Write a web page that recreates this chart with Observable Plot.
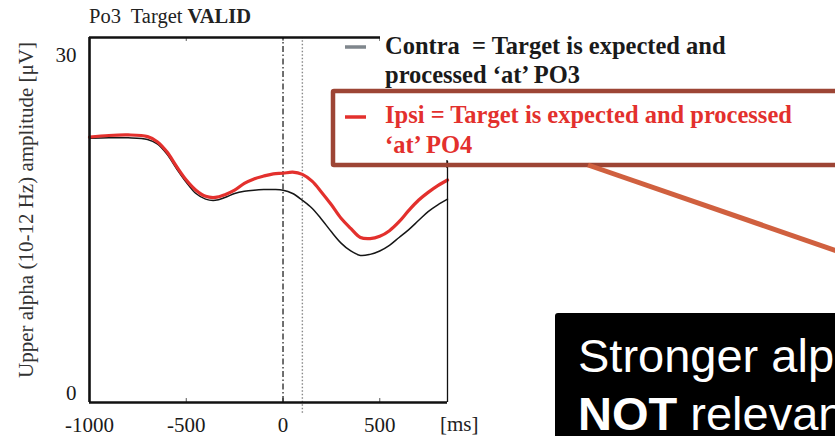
<!DOCTYPE html>
<html><head><meta charset="utf-8">
<script src="https://cdn.jsdelivr.net/npm/d3@7"></script>
<script src="https://cdn.jsdelivr.net/npm/@observablehq/plot@0.6"></script>
<style>
body{margin:0;background:#fff;}
#chart{position:relative;width:835px;height:436px;overflow:hidden;background:#fff;}
</style>
</head><body><div id="chart"></div>
<script>
// Time axis (ms)
const timeMs = [-1000,-900,-800,-700,-650,-600,-550,-500,-450,-400,-350,-300,-250,-200,-150,-100,-50,0,50,100,150,200,250,300,350,400,450,500,550,600,650,700,750,800,850];
// Contra (black) amplitude [µV]
const contra = [22.6,22.65,22.65,22.5,22.1,21.2,19.9,18.7,17.7,17.2,17.1,17.35,17.7,17.9,18.0,18.05,18.05,18.0,17.7,17.1,16.4,15.4,14.3,13.3,12.6,12.2,12.3,12.6,13.1,13.8,14.5,15.3,16.1,16.7,17.2];
// Ipsi (red) amplitude [µV]
const ipsi = [22.7,22.85,22.9,22.75,22.3,21.4,20.1,18.9,18.0,17.45,17.35,17.6,18.0,18.6,19.0,19.25,19.45,19.5,19.6,19.4,18.8,17.8,16.7,15.5,14.6,13.8,13.7,13.9,14.4,15.2,16.2,17.1,17.8,18.4,18.9];
const xTicks = [-1000,-500,0,500];
const yTicks = [0,30];
const xDomain = [-1000, 850];
const yDomain = [-0.85, 31.55];
const onsetMs = [0];
const dottedMs = [100];

const rows = timeMs.flatMap((t,i)=>[{t, v: contra[i], s:"Contra"},{t, v: ipsi[i], s:"Ipsi"}]);

const serif = "'Liberation Serif','Times New Roman',serif";

const plot = Plot.plot({
  width: 835, height: 436,
  marginLeft: 89, marginRight: 388, marginTop: 37, marginBottom: 34,
  style: {fontFamily: serif, fontSize: "21px", background: "#fff", color: "#1a1a1a"},
  x: {domain: xDomain},
  y: {domain: yDomain},
  marks: [
    Plot.axisX({ticks: xTicks, tickSize: 0, tickPadding: 15, label: null, tickFormat: d => String(d)}),
    Plot.axisY({ticks: yTicks, tickSize: 0, tickPadding: 13, label: null, tickFormat: d => String(d)}),
    // inner tick marks
    Plot.ruleX(xTicks.slice(1), {y1: yDomain[0], y2: yDomain[0] + 0.35, stroke: "#555", strokeWidth: 1}),
    Plot.ruleX(xTicks.slice(1), {y1: yDomain[1], y2: yDomain[1] - 0.35, stroke: "#555", strokeWidth: 1}),
    // stimulus markers
    Plot.ruleX(onsetMs, {y1: yDomain[0], y2: yDomain[1], stroke: "#111", strokeWidth: 1.2, strokeDasharray: "6,2.5,1.5,2.5"}),
    Plot.ruleX(dottedMs, {y1: -1.8, y2: yDomain[1], stroke: "#888", strokeWidth: 1.4, strokeDasharray: "1.5,2"}),
    // curves
    Plot.line(rows.filter(d=>d.s==="Contra"), {x: "t", y: "v", stroke: "#161616", strokeWidth: 1.5, curve: "catmull-rom"}),
    Plot.line(rows.filter(d=>d.s==="Ipsi"), {x: "t", y: "v", stroke: "#e3302d", strokeWidth: 3.2, curve: "catmull-rom"}),
    // frame
    Plot.ruleX([xDomain[1]], {y1: yDomain[0], y2: yDomain[1], stroke: "#111", strokeWidth: 1.3}),
    Plot.ruleX([xDomain[0]], {y1: yDomain[0], y2: yDomain[1], stroke: "#111", strokeWidth: 2.6}),
    Plot.ruleY([yDomain[0]], {x1: xDomain[0], x2: xDomain[1], stroke: "#111", strokeWidth: 2.6}),
    Plot.ruleY([yDomain[1]], {x1: xDomain[0], x2: xDomain[1], stroke: "#111", strokeWidth: 2.6})
  ]
});
document.getElementById("chart").appendChild(plot);

const svg = d3.select(plot);
const g = svg.append("g").attr("text-anchor", "start");
// title
const title = g.append("text").attr("x", 89).attr("y", 23).attr("font-family", serif).attr("font-size", 20.5).attr("fill", "#222").style("white-space", "pre");
title.append("tspan").text("Po3  Target ");
title.append("tspan").attr("font-weight", "bold").text("VALID");
// y label
g.append("text").attr("transform", "translate(33,210) rotate(-90)").attr("text-anchor", "middle")
  .attr("font-family", serif).attr("font-size", 21).attr("fill", "#333").text("Upper alpha (10-12 Hz) amplitude [μV]");
// unit label
g.append("text").attr("x", 440).attr("y", 431).attr("font-family", serif).attr("font-size", 21).attr("fill", "#222").text("[ms]");

// legend background covering frame
g.append("rect").attr("x", 380).attr("y", 28).attr("width", 456).attr("height", 133).attr("fill", "#fff");
g.append("line").attr("x1", 447).attr("x2", 447).attr("y1", 160).attr("y2", 168).attr("stroke", "#111").attr("stroke-width", 1.3);
// legend box
g.append("rect").attr("x", 333).attr("y", 91).attr("width", 520).attr("height", 74).attr("fill", "none").attr("stroke", "#9d4535").attr("stroke-width", 4.5).attr("rx", 1);
// legend keys
g.append("line").attr("x1", 345).attr("x2", 366).attr("y1", 47).attr("y2", 47).attr("stroke", "#7f868c").attr("stroke-width", 3.5);
g.append("line").attr("x1", 345).attr("x2", 366).attr("y1", 117).attr("y2", 117).attr("stroke", "#e3302d").attr("stroke-width", 3.5);
const leg = (y, txt, col) => g.append("text").attr("x", 385).attr("y", y).attr("font-family", serif).attr("font-weight", "bold").attr("font-size", 24.5).attr("fill", col).style("white-space", "pre").text(txt);
leg(54, "Contra  = Target is expected and", "#1a1a1a");
leg(83, "processed \u2018at\u2019 PO3", "#1a1a1a");
leg(123, "Ipsi = Target is expected and processed", "#e3302d");
leg(153, "\u2018at\u2019 PO4", "#e3302d");
// arrow line
g.append("line").attr("x1", 588).attr("y1", 165).attr("x2", 840).attr("y2", 252).attr("stroke", "#d0603f").attr("stroke-width", 5);
// black annotation box
g.append("rect").attr("x", 555).attr("y", 313).attr("width", 300).attr("height", 140).attr("rx", 3).attr("fill", "#000");
const sans = "'Liberation Sans',Arial,sans-serif";
g.append("text").attr("x", 578).attr("y", 372).attr("font-family", sans).attr("font-size", 47).attr("fill", "#fff").text("Stronger alpha");
const t2 = g.append("text").attr("x", 578).attr("y", 430).attr("font-family", sans).attr("font-size", 47).attr("fill", "#fff").style("white-space", "pre");
t2.append("tspan").attr("font-weight", "bold").text("NOT");
t2.append("tspan").text(" relevant");
</script>
</body></html>
